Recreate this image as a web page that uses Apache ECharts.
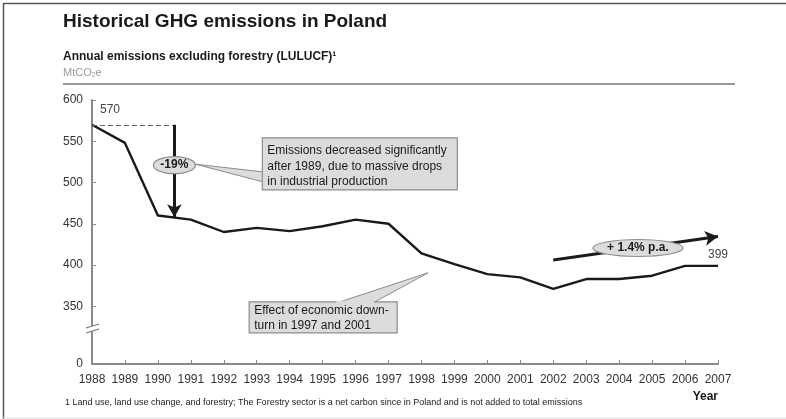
<!DOCTYPE html>
<html>
<head>
<meta charset="utf-8">
<style>
  html, body { margin: 0; padding: 0; background: #fff; }
  #chart { width: 786px; height: 419px; }
</style>
<script src="https://cdn.jsdelivr.net/npm/echarts@6/dist/echarts.min.js"></script>
</head>
<body>
<div id="chart"></div>
<script>
// Annual GHG emissions in Poland, MtCO2e (excluding LULUCF)
const years = [1988, 1989, 1990, 1991, 1992, 1993, 1994, 1995, 1996, 1997,
               1998, 1999, 2000, 2001, 2002, 2003, 2004, 2005, 2006, 2007];
const emissions = [570, 548, 460, 455, 440, 445, 441, 447, 455, 450,
                   414, 401, 389, 385, 371, 383, 383, 387, 399, 399];

// Y axis ticks; the lowest tick stands for 0 below the axis break
const yTicks = [280, 350, 400, 450, 500, 550, 600];
const yBreakValue = 280;
const yBreakMark = 326;

// Annotation anchors in data coordinates [year, value]
const dropFrom = [1990.5, 570];
const dropTo = [1990.5, 458];
const dropBadge = [1990.5, 521];
const trendFrom = [2002, 406];
const trendTo = [2007, 434.5];
const trendBadge = [2004.57, 420.6];
const noteDropAnchor = [1993.17, 554];
const noteDipAnchor = [1992.77, 355.4];
const noteDipTip = [1998.2, 390.5];

const FONT = '"Liberation Sans", Arial, sans-serif';
const chart = echarts.init(document.getElementById('chart'));

const seriesData = years.map((y, i) => [y, emissions[i]]);
const lastIdx = seriesData.length - 1;

chart.setOption({
  animation: false,
  backgroundColor: '#fff',
  textStyle: { fontFamily: FONT },
  title: [
    { text: 'Historical GHG emissions in Poland', left: 63, top: 12, padding: 0,
      textStyle: { fontFamily: FONT, fontSize: 19, fontWeight: 'bold', color: '#1a1a1a' } },
    { text: 'Annual emissions excluding forestry (LULUCF)\u00b9', left: 63, top: 51, padding: 0,
      textStyle: { fontFamily: FONT, fontSize: 12, fontWeight: 'bold', color: '#1a1a1a' } },
    { text: 'MtCO{sub|2}e', left: 63, top: 66, padding: 0,
      textStyle: { fontFamily: FONT, fontSize: 11, fontWeight: 'normal', color: '#9a9a9a',
        rich: { sub: { fontSize: 7, fontWeight: 'normal', color: '#9a9a9a', verticalAlign: 'bottom', padding: [6, 0, 0, 0] } } } }
  ],
  grid: { left: 92, right: 68, top: 100, bottom: 55, containLabel: false, outerBoundsMode: 'none' },
  xAxis: {
    type: 'value', min: 1988, max: 2007, interval: 1,
    splitLine: { show: false },
    axisLine: { lineStyle: { color: '#8a8a8a', width: 2 } },
    axisTick: { inside: true, length: 4, lineStyle: { color: '#8a8a8a', width: 1 } },
    axisLabel: { color: '#333', fontSize: 12, margin: 10, formatter: v => String(v) }
  },
  yAxis: {
    type: 'value', min: yBreakValue, max: 600,
    splitLine: { show: false },
    axisLine: { show: true, lineStyle: { color: '#8a8a8a', width: 2 } },
    axisTick: { show: true, inside: true, length: 4, customValues: yTicks, lineStyle: { color: '#8a8a8a', width: 1 } },
    axisLabel: { color: '#333', fontSize: 12, margin: 9, customValues: yTicks,
      formatter: v => (v === yBreakValue ? '0' : String(v)) }
  },
  series: [{
    type: 'line',
    data: seriesData,
    symbol: 'none',
    lineStyle: { color: '#1a1a1a', width: 2.4 },
    z: 3,
    markLine: {
      silent: true,
      animation: false,
      label: { show: false },
      symbol: ['none', 'none'],
      data: [
        [
          { coord: [1988, dropFrom[1]], symbol: 'none', lineStyle: { type: [5, 3], color: '#666', width: 1.2 } },
          { coord: dropFrom, symbol: 'none' }
        ],
        [
          { coord: dropFrom, symbol: 'none', lineStyle: { type: 'solid', color: '#1a1a1a', width: 3 } },
          { coord: dropTo, symbol: 'arrow', symbolSize: [11, 13] }
        ],
        [
          { coord: trendFrom, symbol: 'none', lineStyle: { type: 'solid', color: '#1a1a1a', width: 3 } },
          { coord: trendTo, symbol: 'arrow', symbolSize: [11, 13] }
        ]
      ]
    }
  }]
});

function px(p) { return chart.convertToPixel({ gridIndex: 0 }, p); }

const g = [];
// Frame edges
g.push({ type: 'line', shape: { x1: 3, y1: 3.5, x2: 786, y2: 3.5 }, style: { stroke: '#555', lineWidth: 1.5 }, z: 10 });
g.push({ type: 'line', shape: { x1: 3.5, y1: 3, x2: 3.5, y2: 419 }, style: { stroke: '#555', lineWidth: 1.5 }, z: 10 });
g.push({ type: 'line', shape: { x1: 3, y1: 418, x2: 786, y2: 418 }, style: { stroke: '#ddd', lineWidth: 1 }, z: 10 });
// Rule under the subtitle
g.push({ type: 'line', shape: { x1: 63, y1: 84, x2: 735, y2: 84 }, style: { stroke: '#999', lineWidth: 2 }, z: 10 });

// Value labels at the first and last year
const pFirst = px(seriesData[0]);
const pLast = px(seriesData[lastIdx]);
g.push({ type: 'text', x: pFirst[0] + 8, y: pFirst[1] - 9, z: 10,
  style: { text: String(emissions[0]), font: '12px ' + FONT, fill: '#444', verticalAlign: 'bottom' } });
g.push({ type: 'text', x: pLast[0], y: pLast[1] - 5, z: 10,
  style: { text: String(emissions[lastIdx]), font: '12px ' + FONT, fill: '#444', align: 'center', verticalAlign: 'bottom' } });

// Axis break marks
const axisX = px([1988, 600])[0];
const brk = px([1988, yBreakMark])[1];
g.push({ type: 'polygon', shape: { points: [[axisX - 6, brk + 2], [axisX + 6, brk - 2], [axisX + 6, brk + 3], [axisX - 6, brk + 7]] },
  style: { fill: '#fff' }, z: 20 });
g.push({ type: 'line', shape: { x1: axisX - 6, y1: brk + 2, x2: axisX + 7, y2: brk - 2 }, style: { stroke: '#777', lineWidth: 1.2 }, z: 21 });
g.push({ type: 'line', shape: { x1: axisX - 6, y1: brk + 7, x2: axisX + 7, y2: brk + 3 }, style: { stroke: '#777', lineWidth: 1.2 }, z: 21 });

// Callout: emissions drop after 1989
const b1 = px(noteDropAnchor);
const b1w = 195, b1h = 52;
const e1 = px(dropBadge);
const e1rx = 21, e1ry = 8.5;
g.push({ type: 'polygon', shape: { points: [[e1[0] + e1rx, e1[1] - 1], [b1[0] + 1, b1[1] + 34], [b1[0] + 1, b1[1] + 44]] },
  style: { fill: '#dcdcdc', stroke: '#8c8c8c', lineWidth: 1 }, z: 30 });
g.push({ type: 'rect', shape: { x: b1[0], y: b1[1], width: b1w, height: b1h },
  style: { fill: '#dcdcdc', stroke: '#8c8c8c', lineWidth: 1.2 }, z: 31 });
g.push({ type: 'rect', shape: { x: b1[0] + 0.6, y: b1[1] + 33, width: 2, height: 12 },
  style: { fill: '#dcdcdc' }, z: 32 });
g.push({ type: 'text', x: b1[0] + 5, y: b1[1] + 5, z: 33,
  style: { text: 'Emissions decreased significantly\nafter 1989, due to massive drops\nin industrial production',
    font: '12px ' + FONT, fill: '#1a1a1a', lineHeight: 15.5 } });

g.push({ type: 'ellipse', shape: { cx: e1[0], cy: e1[1], rx: e1rx, ry: e1ry },
  style: { fill: '#dcdcdc', stroke: '#8c8c8c', lineWidth: 1.2 }, z: 34 });
g.push({ type: 'text', x: e1[0], y: e1[1], z: 35,
  style: { text: '-19%', font: 'bold 12px ' + FONT, fill: '#1a1a1a', align: 'center', verticalAlign: 'middle' } });

// Callout: economic downturn
const b2 = px(noteDipAnchor);
const b2w = 148, b2h = 31;
const tip2 = px(noteDipTip);
g.push({ type: 'polygon', shape: { points: [[b2[0] + 88, b2[1] + 1], [tip2[0], tip2[1]], [b2[0] + 124, b2[1] + 1]] },
  style: { fill: '#dcdcdc', stroke: '#8c8c8c', lineWidth: 1 }, z: 30 });
g.push({ type: 'rect', shape: { x: b2[0], y: b2[1], width: b2w, height: b2h },
  style: { fill: '#dcdcdc', stroke: '#8c8c8c', lineWidth: 1.2 }, z: 31 });
g.push({ type: 'rect', shape: { x: b2[0] + 87, y: b2[1] - 1, width: 38, height: 2.2 },
  style: { fill: '#dcdcdc' }, z: 32 });
g.push({ type: 'text', x: b2[0] + 5, y: b2[1] + 1, z: 33,
  style: { text: 'Effect of economic down-\nturn in 1997 and 2001',
    font: '12px ' + FONT, fill: '#1a1a1a', lineHeight: 15 } });

// Growth badge on the trend arrow
const e2 = px(trendBadge);
g.push({ type: 'ellipse', shape: { cx: e2[0], cy: e2[1], rx: 45, ry: 8.5 },
  style: { fill: '#dcdcdc', stroke: '#8c8c8c', lineWidth: 1.2 }, z: 34 });
g.push({ type: 'text', x: e2[0], y: e2[1], z: 35,
  style: { text: '+ 1.4% p.a.', font: 'bold 12px ' + FONT, fill: '#1a1a1a', align: 'center', verticalAlign: 'middle' } });

// Axis name and footnote
const xEnd = px([2007, yBreakValue]);
g.push({ type: 'text', x: xEnd[0], y: xEnd[1] + 27, z: 10,
  style: { text: 'Year', font: 'bold 12px ' + FONT, fill: '#1a1a1a', align: 'right' } });
g.push({ type: 'text', x: 65, y: 398, z: 10,
  style: { text: '1 Land use, land use change, and forestry; The Forestry sector is a net carbon since in Poland and is not added to total emissions',
    font: '9px ' + FONT, fill: '#1a1a1a' } });

chart.setOption({ graphic: g });
</script>
</body>
</html>
